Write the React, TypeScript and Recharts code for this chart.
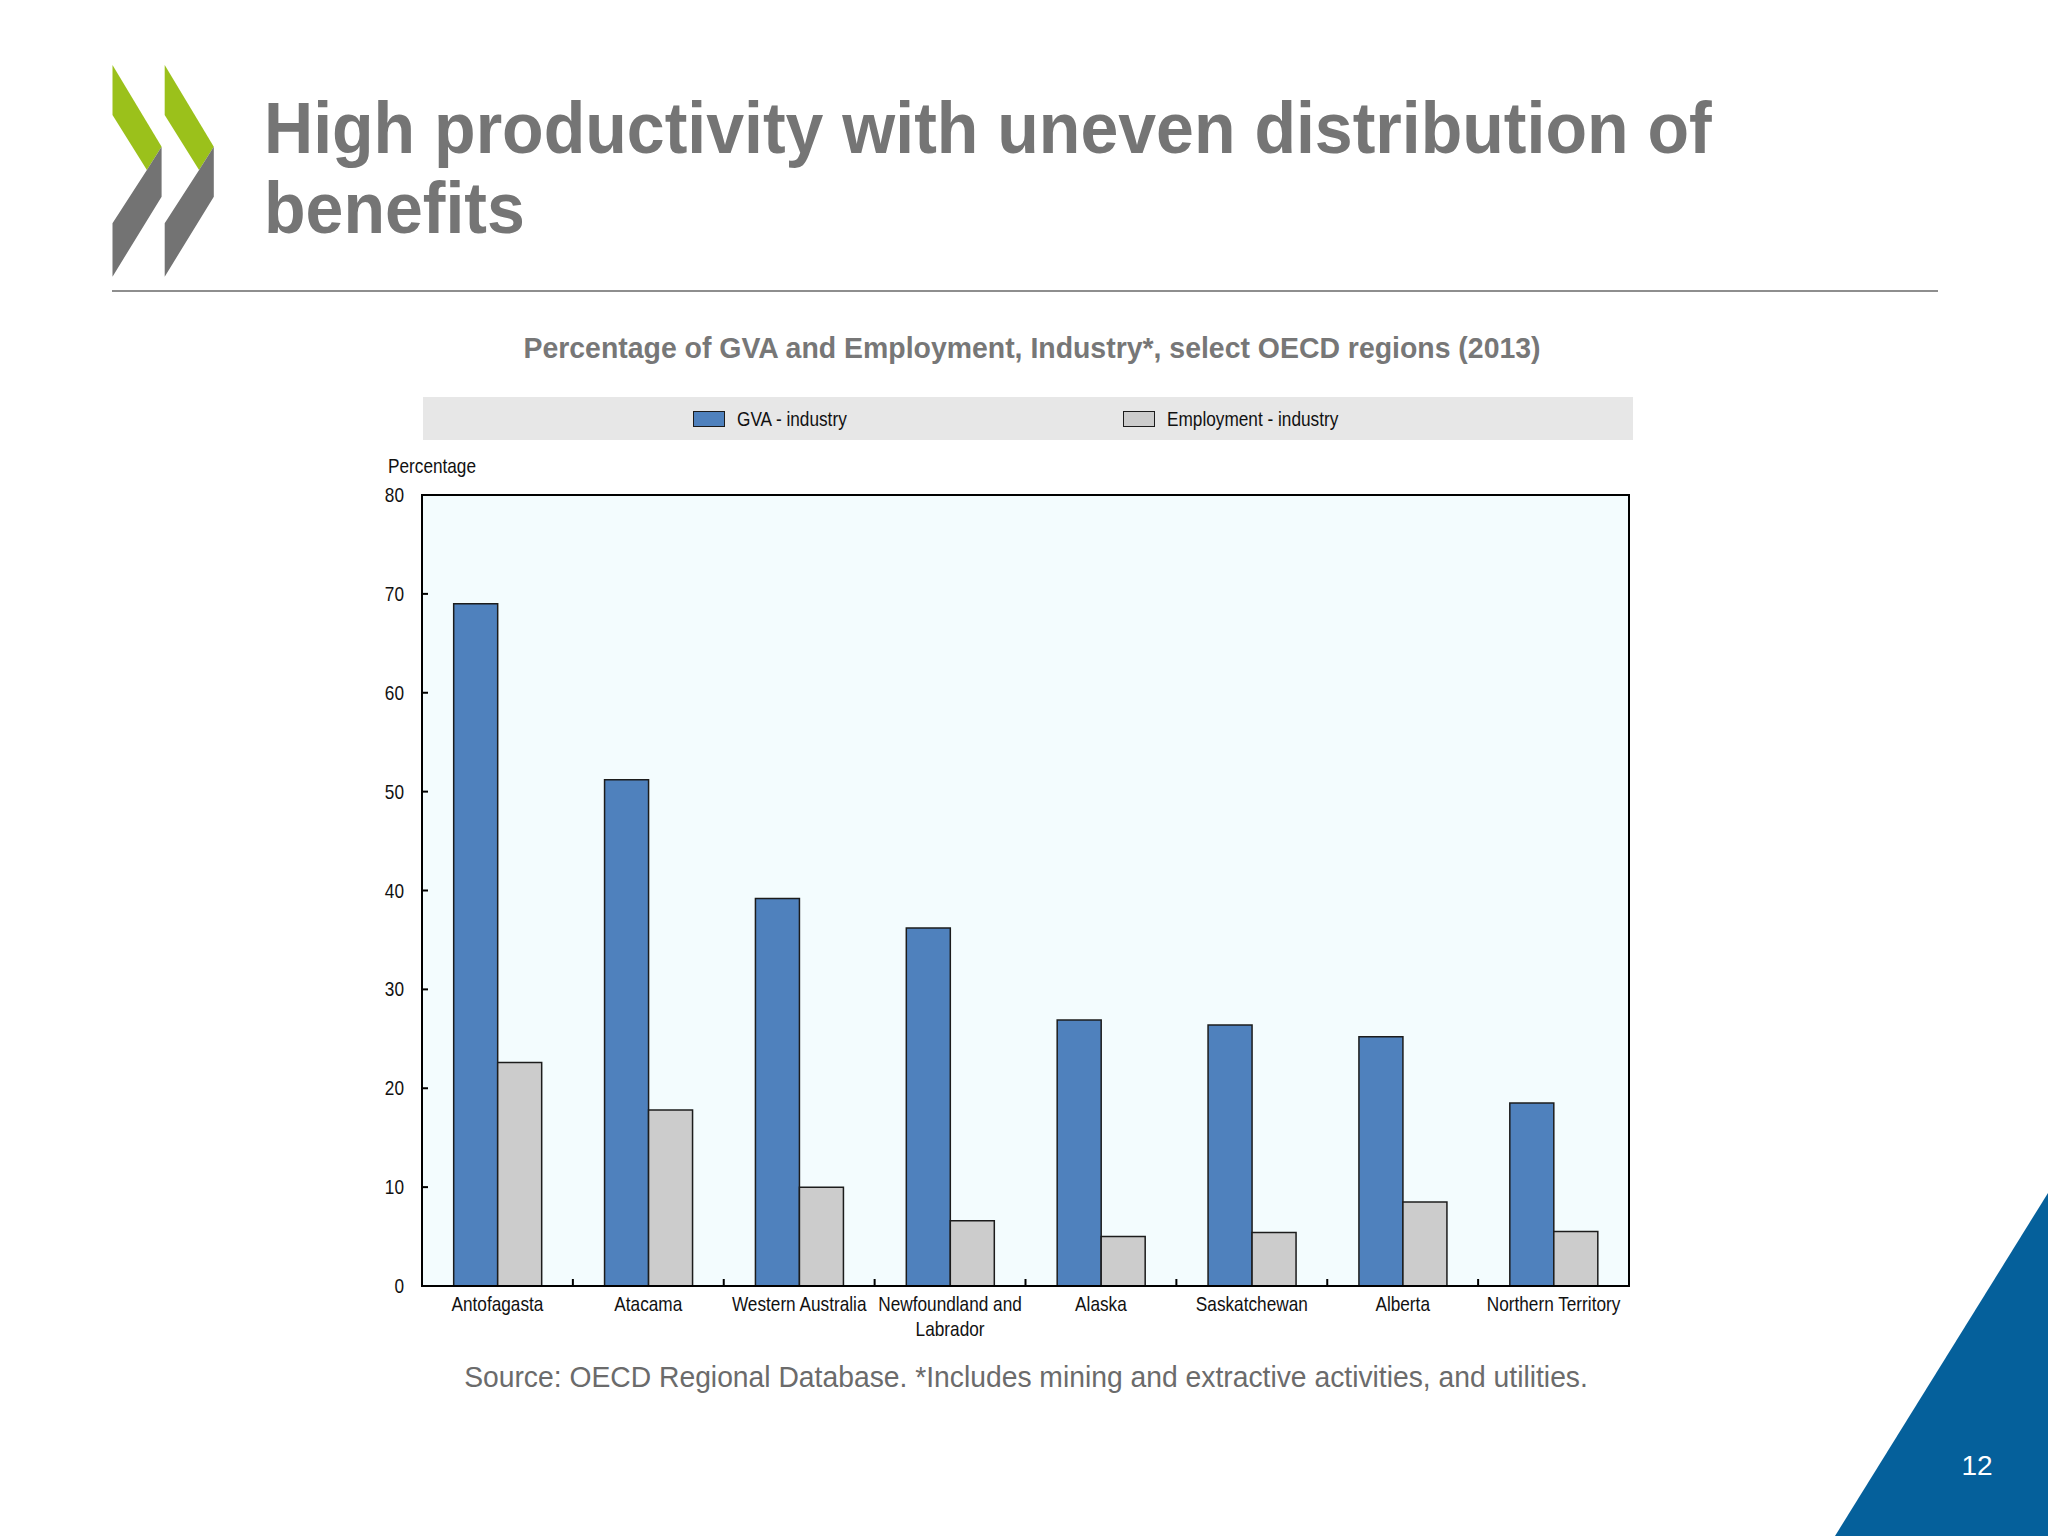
import React from 'react';
import {
  BarChart,
  Bar,
  XAxis,
  YAxis,
  CartesianGrid,
  ReferenceArea,
  Legend,
} from 'recharts';

// Regions (line break marks where the long label wraps)
const regions = [
  'Antofagasta',
  'Atacama',
  'Western Australia',
  'Newfoundland and\nLabrador',
  'Alaska',
  'Saskatchewan',
  'Alberta',
  'Northern Territory',
];

// Industry share of regional GVA, %
const gvaIndustry = [69.0, 51.2, 39.2, 36.2, 26.9, 26.4, 25.2, 18.5];

// Industry share of regional employment, %
const employmentIndustry = [22.6, 17.8, 10.0, 6.6, 5.0, 5.4, 8.5, 5.5];

const yTicks = [0, 10, 20, 30, 40, 50, 60, 70, 80];

const seriesNames = ['GVA - industry', 'Employment - industry'];

const data = regions.map((region, i) => ({
  region,
  gva: gvaIndustry[i],
  employment: employmentIndustry[i],
}));

const SANS = "'Liberation Sans', Arial, Helvetica, sans-serif";
// no narrow face installed, so chart text is squeezed horizontally
const NARROW_SCALE = 0.82;
const CHART_FONT = 21;

const GVA_BLUE = '#4f81bd';
const EMP_GREY = '#cccccc';
const BAR_EDGE = '#1c1c1c';

const X_TICK_MARGIN = 8;

const NarrowText = ({ x, y, anchor, children }: any) => (
  <g transform={`translate(${x},${y}) scale(${NARROW_SCALE},1)`}>
    <text x={0} y={0} textAnchor={anchor} fontSize={CHART_FONT} fontFamily={SANS} fill="#111">
      {children}
    </text>
  </g>
);

// Category label centred in its band, plus a small upward tick on the band's right edge
const RegionTick = (props: any) => {
  const { x, y, payload, index, visibleTicksCount } = props;
  const lines = String(payload.value).split('\n');
  const axisY = y - X_TICK_MARGIN;
  const edgeX = x + (payload.offset || 0);
  return (
    <g>
      {index < visibleTicksCount - 1 && (
        <line x1={edgeX} x2={edgeX} y1={axisY} y2={axisY - 7} stroke="#000" strokeWidth={2} />
      )}
      {lines.map((line, i) => (
        <NarrowText key={i} x={x} y={y + 17 + i * 25} anchor="middle">
          {line}
        </NarrowText>
      ))}
    </g>
  );
};

const ValueTick = (props: any) => {
  const { x, y, payload } = props;
  return (
    <NarrowText x={x} y={y + 7} anchor="end">
      {payload.value}
    </NarrowText>
  );
};

const PercentageLabel = (props: any) => {
  const { viewBox } = props;
  return (
    <NarrowText x={viewBox.x + viewBox.width - 34} y={viewBox.y - 22} anchor="start">
      Percentage
    </NarrowText>
  );
};

const LegendBox = () => {
  const swatches = [GVA_BLUE, EMP_GREY];
  const itemLeft = [270, 700];
  return (
    <div
      style={{
        position: 'relative',
        height: 43,
        background: '#e7e7e7',
        fontFamily: SANS,
        fontSize: CHART_FONT,
        color: '#111',
      }}
    >
      {seriesNames.map((name, i) => (
        <div
          key={name}
          style={{
            position: 'absolute',
            left: itemLeft[i],
            top: 0,
            height: 43,
            display: 'flex',
            alignItems: 'center',
            whiteSpace: 'nowrap',
          }}
        >
          <span
            style={{
              display: 'inline-block',
              width: 30,
              height: 14,
              background: swatches[i],
              border: `1.5px solid ${BAR_EDGE}`,
              marginRight: 12,
            }}
          />
          <span
            style={{
              display: 'inline-block',
              transform: `scaleX(${NARROW_SCALE})`,
              transformOrigin: 'left center',
            }}
          >
            {name}
          </span>
        </div>
      ))}
    </div>
  );
};

const Chevrons = () => {
  // two stacked chevrons: green upper wing, grey lower wing
  const wing = (dx: number) => {
    const X = (v: number) => v + dx;
    return (
      <g key={dx}>
        <polygon
          points={`${X(112.5)},65 ${X(161.6)},146.7 ${X(146.9)},170 ${X(112.5)},115`}
          fill="#9bc11b"
        />
        <polygon
          points={`${X(161.6)},146.7 ${X(161.6)},196.7 ${X(112.5)},276.7 ${X(112.5)},223.3 ${X(146.9)},170`}
          fill="#737373"
        />
      </g>
    );
  };
  return (
    <svg width={260} height={300} style={{ position: 'absolute', left: 0, top: 0 }}>
      {wing(0)}
      {wing(52.2)}
    </svg>
  );
};

const App: React.FC = () => {
  return (
    <div
      style={{
        position: 'absolute',
        left: 0,
        top: 0,
        width: 2048,
        height: 1536,
        overflow: 'hidden',
        background: '#ffffff',
      }}
    >
      <Chevrons />

      <div
        style={{
          position: 'absolute',
          left: 264,
          top: 88,
          fontFamily: SANS,
          fontWeight: 700,
          fontSize: 72,
          lineHeight: '80px',
          color: '#757575',
          transform: 'scaleX(0.945)',
          transformOrigin: 'left top',
          whiteSpace: 'nowrap',
        }}
      >
        High productivity with uneven distribution of
        <br />
        benefits
      </div>

      <div
        style={{
          position: 'absolute',
          left: 112,
          top: 290,
          width: 1826,
          height: 2,
          background: '#8e8e8e',
        }}
      />

      <div
        style={{
          position: 'absolute',
          left: 0,
          width: 2064,
          top: 332,
          textAlign: 'center',
          fontFamily: SANS,
          fontWeight: 700,
          fontSize: 29,
          color: '#777777',
          transform: 'scaleX(0.98)',
          transformOrigin: '1032px 0',
          whiteSpace: 'nowrap',
        }}
      >
        Percentage of GVA and Employment, Industry*, select OECD regions (2013)
      </div>

      <div style={{ position: 'absolute', left: 300, top: 397 }}>
        <BarChart
          width={1400}
          height={949}
          data={data}
          margin={{ top: 0, right: 71, bottom: 0, left: 0 }}
          barGap={0}
          barCategoryGap="21%"
        >
          <CartesianGrid horizontal={false} vertical={false} fill="#f3fcfe" />
          <Legend
            verticalAlign="top"
            content={<LegendBox />}
            wrapperStyle={{ left: 123, width: 1210, paddingBottom: 55 }}
          />
          <XAxis
            dataKey="region"
            height={60}
            axisLine={{ stroke: '#000', strokeWidth: 2 }}
            tickLine={false}
            tickSize={0}
            tickMargin={X_TICK_MARGIN}
            interval={0}
            tick={<RegionTick />}
          />
          <YAxis
            width={122}
            domain={[0, 80]}
            ticks={yTicks}
            interval={0}
            axisLine={{ stroke: '#000', strokeWidth: 2 }}
            tickLine={{ stroke: '#000', strokeWidth: 2 }}
            tickSize={-6}
            tickMargin={24}
            tick={<ValueTick />}
            label={<PercentageLabel />}
          />
          <ReferenceArea
            y1={0}
            y2={80}
            fill="none"
            fillOpacity={0}
            stroke="#000"
            strokeWidth={2}
          />
          <Bar
            dataKey="gva"
            name={seriesNames[0]}
            fill={GVA_BLUE}
            stroke={BAR_EDGE}
            strokeWidth={1.5}
            isAnimationActive={false}
          />
          <Bar
            dataKey="employment"
            name={seriesNames[1]}
            fill={EMP_GREY}
            stroke={BAR_EDGE}
            strokeWidth={1.5}
            isAnimationActive={false}
          />
        </BarChart>
      </div>

      <div
        style={{
          position: 'absolute',
          left: 0,
          width: 2052,
          top: 1361,
          textAlign: 'center',
          fontFamily: SANS,
          fontSize: 29,
          color: '#6b6b6b',
          transform: 'scaleX(0.975)',
          transformOrigin: '1026px 0',
          whiteSpace: 'nowrap',
        }}
      >
        Source: OECD Regional Database. *Includes mining and extractive activities, and utilities.
      </div>

      <svg width={2048} height={1536} style={{ position: 'absolute', left: 0, top: 0, pointerEvents: 'none' }}>
        <polygon points="2048,1193 2048,1536 1835,1536" fill="#05609b" />
        <text x={1977} y={1475} textAnchor="middle" fontFamily={SANS} fontSize={28} fill="#ffffff">
          12
        </text>
      </svg>
    </div>
  );
};

export default App;
